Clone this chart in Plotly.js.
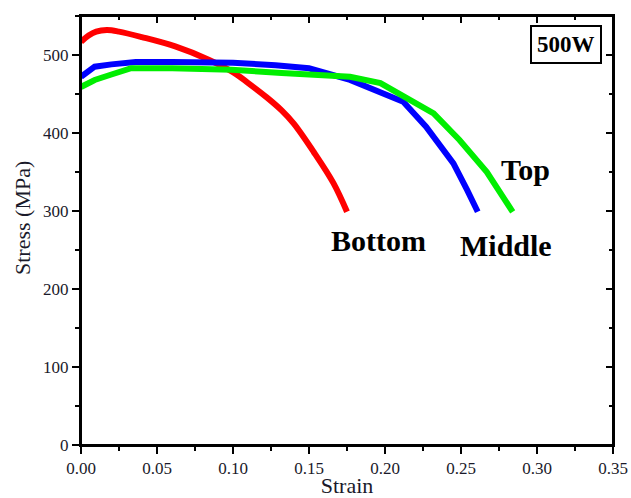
<!DOCTYPE html>
<html>
<head>
<meta charset="utf-8">
<script src="https://cdn.plot.ly/plotly-3.0.1.min.js"></script>
<style>html,body{margin:0;padding:0;background:#fff;}#chart{width:631px;height:498px;}</style>
</head>
<body>
<div id="chart"></div>
<script>
const bottomStrain = [0, 0.005, 0.010, 0.017, 0.025, 0.040, 0.062, 0.084, 0.100, 0.110, 0.122, 0.132, 0.140, 0.153, 0.166, 0.175];
const bottomStress = [517, 525, 530, 532, 530, 523, 511, 494, 478, 464, 446, 429, 412, 376, 336, 299];

const middleStrain = [0, 0.009, 0.020, 0.036, 0.060, 0.100, 0.128, 0.150, 0.177, 0.197, 0.212, 0.227, 0.245, 0.254, 0.261];
const middleStress = [472, 485, 488, 491, 491, 490, 487, 483, 468, 453, 440, 408, 361, 327, 299];

const topStrain = [0, 0.009, 0.020, 0.033, 0.060, 0.099, 0.132, 0.160, 0.177, 0.197, 0.214, 0.232, 0.249, 0.267, 0.284];
const topStress = [459, 468, 475, 483, 483, 481, 477, 474, 472, 464, 446, 425, 391, 350, 299];

const seriesNames = ['Bottom', 'Middle', 'Top'];
const xTicks = [0, 0.05, 0.10, 0.15, 0.20, 0.25, 0.30, 0.35];
const xTickText = ['0.00', '0.05', '0.10', '0.15', '0.20', '0.25', '0.30', '0.35'];
const yTicks = [0, 100, 200, 300, 400, 500];

const serif = 'Liberation Serif, Times New Roman, serif';
const inkColor = '#1a1a2a';
const tickFont = {family: serif, size: 17, color: inkColor};

const traces = [
  {x: bottomStrain, y: bottomStress, name: seriesNames[0], mode: 'lines', line: {color: '#ff0000', width: 6, shape: 'spline', smoothing: 1}},
  {x: middleStrain, y: middleStress, name: seriesNames[1], mode: 'lines', line: {color: '#0000ff', width: 6}},
  {x: topStrain, y: topStress, name: seriesNames[2], mode: 'lines', line: {color: '#00ee00', width: 6}},
  // transparent copies on the mirrored axes so the top/right inward ticks are drawn
  {x: topStrain, y: topStress, xaxis: 'x2', yaxis: 'y', mode: 'lines', line: {width: 1, color: 'rgba(0,0,0,0)'}, hoverinfo: 'skip', showlegend: false},
  {x: topStrain, y: topStress, xaxis: 'x', yaxis: 'y2', mode: 'lines', line: {width: 1, color: 'rgba(0,0,0,0)'}, hoverinfo: 'skip', showlegend: false}
];

const xr = [0, 0.35], yr = [0, 550];
const frame = {showgrid: false, zeroline: false, showline: true, linecolor: '#000', linewidth: 2, tickwidth: 2, tickcolor: '#000'};
const layout = {
  width: 631, height: 498,
  margin: {l: 81, r: 18, t: 16, b: 53},
  paper_bgcolor: '#fff', plot_bgcolor: '#fff',
  showlegend: false,
  xaxis: Object.assign({}, frame, {
    range: xr, mirror: true, tickmode: 'array', tickvals: xTicks, ticktext: xTickText, ticks: 'outside', ticklen: 7,
    minor: {dtick: 0.025, ticks: 'outside', ticklen: 4, tickwidth: 2, tickcolor: '#000', showgrid: false},
    tickfont: tickFont,
    title: {text: 'Strain', font: {family: serif, size: 22, color: inkColor}, standoff: 2}
  }),
  yaxis: Object.assign({}, frame, {
    range: yr, mirror: true, tickmode: 'array', tickvals: yTicks, ticks: 'outside', ticklen: 7,
    minor: {dtick: 50, ticks: 'outside', ticklen: 4, tickwidth: 2, tickcolor: '#000', showgrid: false},
    tickfont: tickFont
  }),
  xaxis2: Object.assign({}, frame, {
    overlaying: 'x', anchor: 'y', side: 'top', range: xr, tickmode: 'array', tickvals: xTicks, showticklabels: false, ticks: 'inside', ticklen: 7,
    minor: {dtick: 0.025, ticks: 'inside', ticklen: 4, tickwidth: 2, tickcolor: '#000', showgrid: false}
  }),
  yaxis2: Object.assign({}, frame, {
    overlaying: 'y', anchor: 'x', side: 'right', range: yr, tickmode: 'array', tickvals: yTicks, showticklabels: false, ticks: 'inside', ticklen: 7,
    minor: {dtick: 50, ticks: 'inside', ticklen: 4, tickwidth: 2, tickcolor: '#000', showgrid: false}
  }),
  shapes: [
    {type: 'rect', xref: 'paper', yref: 'paper', x0: 0, x1: 1, y0: 0, y1: 1, line: {color: '#000', width: 2}, fillcolor: 'rgba(0,0,0,0)', layer: 'above'}
  ],
  annotations: [
    {x: -0.111, y: 0.529, xref: 'paper', yref: 'paper', text: 'Stress (MPa)', textangle: -90, showarrow: false,
     font: {family: serif, size: 22, color: inkColor}, xanchor: 'center', yanchor: 'middle'},
    {x: 0.196, y: 262, xref: 'x', yref: 'y', text: '<b>' + seriesNames[0] + '</b>', showarrow: false, font: {family: serif, size: 30, color: '#000'}, xanchor: 'center', yanchor: 'middle'},
    {x: 0.2795, y: 256, xref: 'x', yref: 'y', text: '<b>' + seriesNames[1] + '</b>', showarrow: false, font: {family: serif, size: 30, color: '#000'}, xanchor: 'center', yanchor: 'middle'},
    {x: 0.2925, y: 353, xref: 'x', yref: 'y', text: '<b>' + seriesNames[2] + '</b>', showarrow: false, font: {family: serif, size: 30, color: '#000'}, xanchor: 'center', yanchor: 'middle'},
    {x: 0.319, y: 513, xref: 'x', yref: 'y', text: '<b>500W</b>', showarrow: false, font: {family: serif, size: 23, color: '#000'},
     xanchor: 'center', yanchor: 'middle', bordercolor: '#000', borderwidth: 2, borderpad: 5, bgcolor: '#fff'}
  ]
};

Plotly.newPlot('chart', traces, layout, {displayModeBar: false, staticPlot: true});
</script>
</body>
</html>
